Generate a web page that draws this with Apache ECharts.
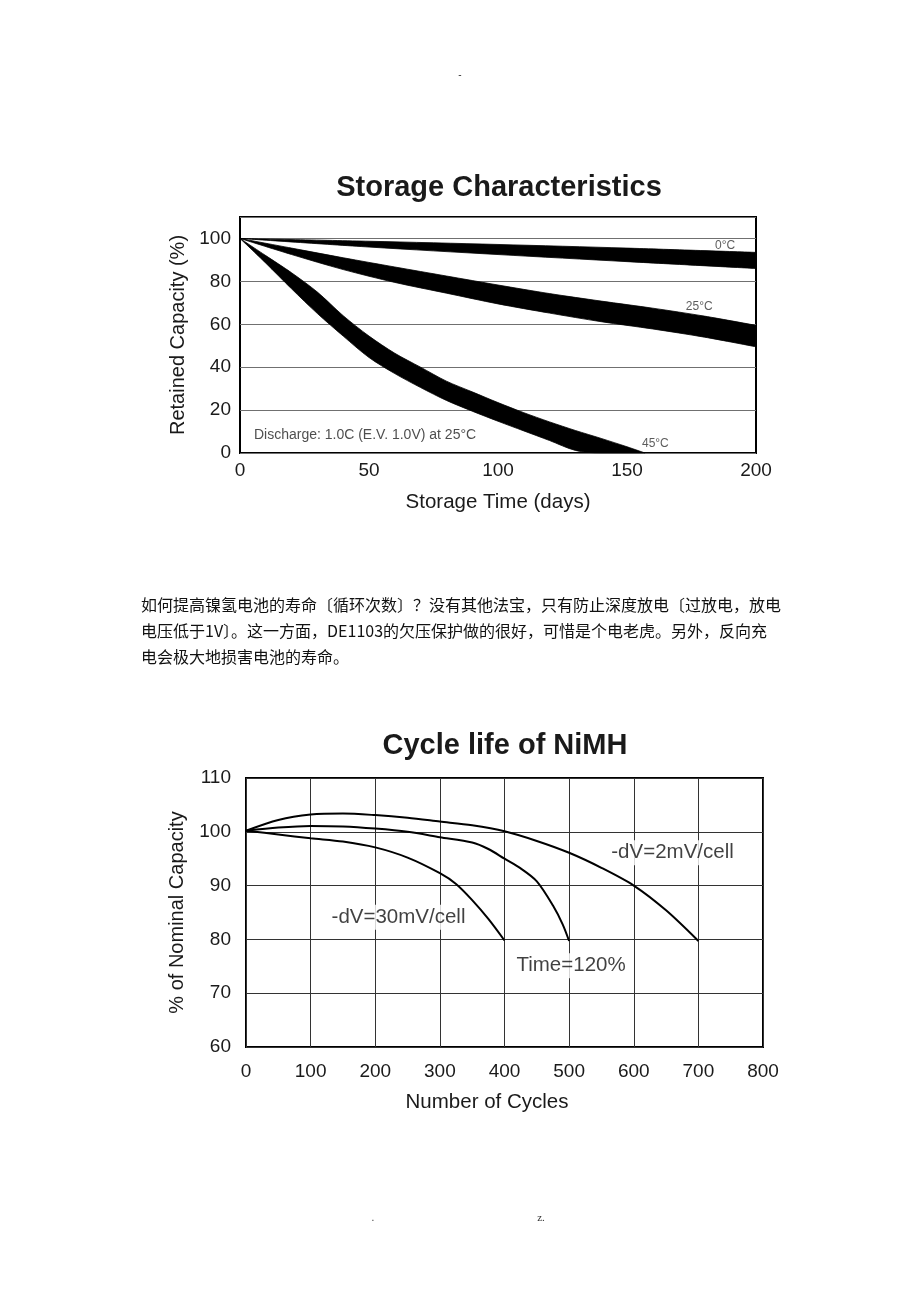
<!DOCTYPE html>
<html><head><meta charset="utf-8">
<script src="https://cdn.jsdelivr.net/npm/echarts@6/dist/echarts.min.js"></script>
<style>html,body{margin:0;padding:0;background:#fff}#c{width:920px;height:1302px}</style>
</head><body><div id="c"></div>
<script>
// ---- Storage Characteristics (retained capacity bands, %) ----
const days0 = [0, 50, 100, 150, 200];
const upper0 = [100, 98.7, 97.2, 95.5, 93.5];
const lower0 = [100, 96.0, 92.5, 89.2, 86.0];

const days25 = [0, 20, 40, 60, 80, 100, 120, 140, 160, 180, 200];
const upper25 = [100, 95.5, 91.0, 86.7, 82.5, 78.3, 74.3, 70.8, 67.5, 63.8, 59.5];
const lower25 = [100, 92.5, 85.5, 79.5, 74.5, 69.5, 65.2, 61.2, 57.8, 54.0, 49.5];

const days45 = [0, 10, 20, 30, 40, 50, 60, 70, 80, 90, 100, 110, 120, 130, 140, 150, 157];
const upper45 = [100, 92.0, 84.0, 75.0, 64.0, 54.5, 46.5, 40.0, 33.5, 28.5, 23.5, 18.8, 14.5, 10.5, 6.8, 2.9, 0];
const lower45 = [100, 88.5, 76.5, 65.0, 54.5, 44.5, 37.0, 30.5, 24.5, 19.5, 14.8, 10.3, 5.8, 1.2, 0, 0, 0];

const storageXTicks = [0, 50, 100, 150, 200];
const storageYTicks = [0, 20, 40, 60, 80, 100];

// ---- Cycle life of NiMH (% of nominal capacity) ----
const cycles2mV = [0, 50, 100, 150, 200, 250, 300, 350, 400, 450, 500, 550, 600, 650, 700];
const cap2mV = [100.2, 102.2, 103.2, 103.4, 103.1, 102.6, 101.9, 101.2, 100.1, 98.3, 96.1, 93.3, 90.0, 85.4, 79.7];
const cyclesTime = [0, 50, 100, 150, 200, 250, 300, 350, 375, 400, 425, 450, 475, 490, 500];
const capTime = [100.2, 100.8, 101.1, 101.0, 100.6, 100.0, 99.0, 98.0, 96.8, 95.0, 93.2, 90.8, 86.3, 82.8, 79.7];
const cycles30mV = [0, 50, 100, 150, 200, 250, 300, 325, 350, 375, 400];
const cap30mV = [100.2, 99.5, 98.8, 98.2, 97.1, 95.2, 92.3, 90.3, 87.3, 83.8, 79.8];

// annotation texts
const storageLabels = [
  { name: '0°C', at: [188, 96.7] },
  { name: '25°C', at: [178, 68.2] },
  { name: '45°C', at: [161, 4.2] }
];
const storageNote = { name: 'Discharge: 1.0C (E.V. 1.0V) at 25°C', at: [5.4, 8.4] };
const cycleLabels = [
  { name: '-dV=2mV/cell', at: [660, 96.1] },
  { name: '-dV=30mV/cell', at: [236, 84.1] },
  { name: 'Time=120%', at: [503, 75.1] }
];

const paragraph = [
  '如何提高镍氢电池的寿命〔循环次数〕？没有其他法宝，只有防止深度放电〔过放电，放电',
  '电压低于1V〕。这一方面，DE1103的欠压保护做的很好，可惜是个电老虎。另外，反向充',
  '电会极大地损害电池的寿命。'
];

const FONT = '"Liberation Sans", Arial, sans-serif';
const diff = (u, l) => u.map((v, i) => v - l[i]);
// rows are [value, day] so that the stacked dimension is the value (y) dimension
const rows = (days, vals) => vals.map((v, i) => [v, days[i]]);

function band(days, upper, lower, id) {
  const common = { type: 'line', xAxisIndex: 0, yAxisIndex: 0, stack: id, encode: { x: 1, y: 0 },
    symbol: 'none', smooth: 0.3, silent: true, lineStyle: { width: 0.8, color: '#000' } };
  return [
    Object.assign({}, common, { data: rows(days, lower) }),
    Object.assign({}, common, { data: rows(days, diff(upper, lower)),
      areaStyle: { color: '#000', opacity: 1 } })
  ];
}
function curve(xs, ys) {
  return { type: 'line', xAxisIndex: 1, yAxisIndex: 1, data: xs.map((x, i) => [x, ys[i]]), symbol: 'none',
    smooth: 0.3, lineStyle: { width: 2, color: '#000' }, silent: true };
}

const chart = echarts.init(document.getElementById('c'), null, { renderer: 'canvas' });
const tickFont = { fontFamily: FONT, fontSize: 19, color: '#1a1a1a' };
const nameFont = { fontFamily: FONT, fontSize: 20.5, color: '#1a1a1a' };
const yNameFont = { fontFamily: FONT, fontSize: 20, color: '#1a1a1a' };

chart.setOption({
  animation: false,
  backgroundColor: '#fff',
  grid: [
    { left: 240, top: 217, width: 516, height: 236, show: true, borderColor: '#000', borderWidth: 2, backgroundColor: 'transparent' },
    { left: 246, top: 778, width: 517, height: 269, show: true, borderColor: '#000', borderWidth: 2, backgroundColor: 'transparent' }
  ],
  xAxis: [
    { gridIndex: 0, type: 'value', min: 0, max: 200, interval: 50,
      axisLine: { show: false }, axisTick: { show: false }, splitLine: { show: false },
      axisLabel: Object.assign({ margin: 8 }, tickFont),
      name: 'Storage Time (days)', nameLocation: 'middle', nameGap: 39,
      nameTextStyle: nameFont },
    { gridIndex: 1, type: 'value', min: 0, max: 800, interval: 100,
      axisLine: { show: false }, axisTick: { show: false },
      splitLine: { show: true, lineStyle: { color: '#333', width: 1 } },
      axisLabel: Object.assign({ margin: 15 }, tickFont),
      name: 'Number of Cycles', nameLocation: 'middle', nameGap: 45,
      nameTextStyle: Object.assign({ padding: [0, 35, 0, 0] }, nameFont) }
  ],
  yAxis: [
    { gridIndex: 0, type: 'value', min: 0, max: 110, interval: 20,
      axisLine: { show: false }, axisTick: { show: false },
      splitLine: { show: true, lineStyle: { color: '#707070', width: 1 } },
      axisLabel: Object.assign({ margin: 9, formatter: v => (storageYTicks.indexOf(v) >= 0 ? String(v) : '') }, tickFont),
      name: 'Retained Capacity (%)', nameLocation: 'middle', nameGap: 51,
      nameTextStyle: yNameFont },
    { gridIndex: 1, type: 'value', min: 60, max: 110, interval: 10,
      axisLine: { show: false }, axisTick: { show: false },
      splitLine: { show: true, lineStyle: { color: '#333', width: 1 } },
      axisLabel: Object.assign({ margin: 15 }, tickFont),
      name: '% of Nominal Capacity', nameLocation: 'middle', nameGap: 59,
      nameTextStyle: yNameFont }
  ],
  series: [
    ...band(days0, upper0, lower0, 'b0'),
    ...band(days25, upper25, lower25, 'b25'),
    ...band(days45, upper45, lower45, 'b45'),
    { type: 'scatter', xAxisIndex: 0, yAxisIndex: 0, symbolSize: 0, silent: true, z: 5,
      data: storageLabels.map(d => ({ name: d.name, value: d.at })),
      label: { show: true, position: 'inside', formatter: '{b}', fontFamily: FONT, fontSize: 12, color: '#333' } },
    { type: 'scatter', xAxisIndex: 0, yAxisIndex: 0, symbolSize: 0, silent: true, z: 5,
      data: [{ name: storageNote.name, value: storageNote.at }],
      label: { show: true, position: 'right', distance: 0, formatter: '{b}', fontFamily: FONT, fontSize: 14, color: '#222' } },
    curve(cycles2mV, cap2mV),
    curve(cyclesTime, capTime),
    curve(cycles30mV, cap30mV),
    { type: 'scatter', xAxisIndex: 1, yAxisIndex: 1, symbolSize: 0, silent: true, z: 5,
      data: cycleLabels.map(d => ({ name: d.name, value: d.at })),
      label: { show: true, position: 'inside', formatter: '{b}', fontFamily: FONT, fontSize: 20.5, color: '#111',
        backgroundColor: '#fff', padding: [2, 3] } }
  ],
  graphic: [
    { type: 'text', x: 499, y: 188, silent: true,
      style: { text: 'Storage Characteristics', fontFamily: FONT, fontSize: 29, fontWeight: 'bold', fill: '#1a1a1a',
        align: 'center', verticalAlign: 'middle', textAlign: 'center', textVerticalAlign: 'middle' } },
    { type: 'text', x: 505, y: 746, silent: true,
      style: { text: 'Cycle life of NiMH', fontFamily: FONT, fontSize: 29, fontWeight: 'bold', fill: '#1a1a1a',
        align: 'center', verticalAlign: 'middle', textAlign: 'center', textVerticalAlign: 'middle' } },
    ...paragraph.map((t, i) => ({ type: 'text', x: 141, y: 605 + i * 26, silent: true,
      style: { text: t, fontFamily: '"Noto Sans CJK SC", sans-serif', fontSize: 16, fill: '#111',
        align: 'left', verticalAlign: 'middle', textAlign: 'left', textVerticalAlign: 'middle' } })),
    { type: 'text', x: 460, y: 75, silent: true,
      style: { text: '-', fontFamily: FONT, fontSize: 10, fill: '#333', align: 'center', verticalAlign: 'middle' } },
    { type: 'text', x: 373, y: 1218, silent: true,
      style: { text: '.', fontFamily: FONT, fontSize: 10, fill: '#333', align: 'center', verticalAlign: 'middle' } },
    { type: 'text', x: 541, y: 1218, silent: true,
      style: { text: 'z.', fontFamily: '"Liberation Serif", serif', fontSize: 11, fill: '#333', align: 'center', verticalAlign: 'middle' } }
  ]
});
</script>
</body></html>
